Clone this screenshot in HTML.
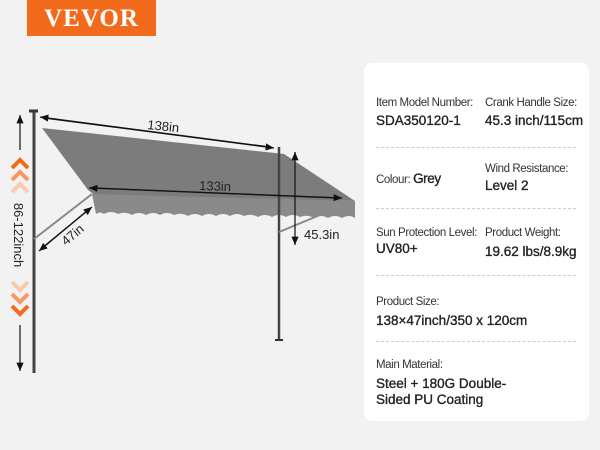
<!DOCTYPE html>
<html><head><style>
body{margin:0;width:600px;height:450px;background:#f2f2f2;position:relative;overflow:hidden;font-family:"Liberation Sans",sans-serif;color:#222}
.logo{position:absolute;left:27px;top:0;width:129px;height:36px;background:#f26a1b;color:#fff;font:bold 25px "Liberation Serif",serif;text-align:center;line-height:38px;letter-spacing:1px}
.card{position:absolute;left:364px;top:63px;width:225px;height:358px;background:#fff;border-radius:8px}
.t{position:absolute;font-size:11.5px;color:#333;letter-spacing:-0.4px;white-space:nowrap}
.v{position:absolute;font-size:13.5px;color:#222;white-space:nowrap;line-height:16px;-webkit-text-stroke:0.35px #222}
.hr{position:absolute;left:12px;width:200px;border-top:1px dashed #ccc}
</style></head><body>
<div class="logo">VEVOR</div>
<svg width="360" height="450" style="position:absolute;left:0;top:0">
<defs><marker id="a" markerWidth="8" markerHeight="8" refX="7" refY="4" orient="auto"><path d="M0,1 L7,4 L0,7z" fill="#111"/></marker></defs>
<polygon points="42,128 284,154 355,201 96,196 88,190" fill="#7c7c7c"/>
<path d="M92,194 L355,201 L355,218 Q349,214 342,218 Q335,214 328,218 Q321,214 314,218 Q307,214 300,217 Q293,213 286,217 Q279,213 272,217 Q265,213 258,217 Q251,213 244,216 Q237,212 230,216 Q223,212 216,216 Q209,212 202,216 Q195,212 188,216 Q181,212 174,215 Q167,211 160,215 Q153,211 146,215 Q139,211 132,215 Q125,211 118,214 Q111,210 104,214 Q100,211 96,214 Z" fill="#8a8a8a"/>
<line x1="34" y1="111" x2="34" y2="373" stroke="#444" stroke-width="3"/>
<line x1="279" y1="147" x2="279" y2="340" stroke="#444" stroke-width="2.5"/>
<line x1="29" y1="111" x2="38" y2="111" stroke="#333" stroke-width="3"/>
<line x1="275" y1="340" x2="283" y2="340" stroke="#333" stroke-width="2"/>
<line x1="34" y1="239" x2="92" y2="194" stroke="#888" stroke-width="2"/>
<line x1="279" y1="232" x2="320" y2="215" stroke="#888" stroke-width="2"/>
<line x1="44" y1="118" x2="274" y2="148" stroke="#111" stroke-width="1.2" marker-end="url(#a)"/>
<line x1="270" y1="147" x2="40" y2="117" stroke="#111" stroke-width="1.2" marker-end="url(#a)"/>
<line x1="95" y1="188" x2="342" y2="198" stroke="#111" stroke-width="1.2" marker-end="url(#a)"/>
<line x1="338" y1="198" x2="89" y2="188" stroke="#111" stroke-width="1.2" marker-end="url(#a)"/>
<line x1="42" y1="248" x2="92" y2="207" stroke="#111" stroke-width="1.2" marker-end="url(#a)"/>
<line x1="88" y1="210" x2="39" y2="251" stroke="#111" stroke-width="1.2" marker-end="url(#a)"/>
<line x1="295" y1="160" x2="295" y2="152" stroke="#111" stroke-width="1.2" marker-end="url(#a)"/>
<line x1="295" y1="152" x2="295" y2="245" stroke="#111" stroke-width="1.2" marker-end="url(#a)"/>
<line x1="20" y1="150" x2="20" y2="115" stroke="#111" stroke-width="1.2" marker-end="url(#a)"/>
<line x1="20" y1="325" x2="20" y2="371" stroke="#111" stroke-width="1.2" marker-end="url(#a)"/>
<g fill="none" stroke-width="4" stroke-linejoin="miter">
<path d="M12,168 L20,160 L28,168" stroke="#f26a1b"/><path d="M12,180 L20,172 L28,180" stroke="#f49a66"/><path d="M12,192 L20,184 L28,192" stroke="#f8cbb0"/>
<path d="M12,282 L20,290 L28,282" stroke="#f8cbb0"/><path d="M12,294 L20,302 L28,294" stroke="#f49a66"/><path d="M12,306 L20,314 L28,306" stroke="#f26a1b"/>
</g>
<g font-family="Liberation Sans" font-size="13" fill="#222">
<text x="147" y="129" transform="rotate(6 147 129)">138in</text>
<text x="199" y="190" transform="rotate(2 199 190)">133in</text>
<text x="66" y="246" transform="rotate(-40 66 246)">47in</text>
<text x="304" y="239">45.3in</text>
<text x="14" y="235" transform="rotate(90 14 235)" text-anchor="middle">86-122inch</text>
</g>
</svg>
<div class="card">
<div class="t" style="left:12px;top:34px">Item Model Number:</div>
<div class="v" style="left:12px;top:50px">SDA350120-1</div>
<div class="t" style="left:121px;top:34px">Crank Handle Size:</div>
<div class="v" style="left:121px;top:50px">45.3 inch/115cm</div>
<div class="hr" style="top:84px"></div>
<div class="t" style="left:12px;top:108px">Colour: <span style="font-size:13.5px;color:#222;-webkit-text-stroke:0.35px #222">Grey</span></div>
<div class="t" style="left:121px;top:100px">Wind Resistance:</div>
<div class="v" style="left:121px;top:115px">Level 2</div>
<div class="hr" style="top:145px"></div>
<div class="t" style="left:12px;top:164px">Sun Protection Level:</div>
<div class="v" style="left:12px;top:178px">UV80+</div>
<div class="t" style="left:121px;top:164px">Product Weight:</div>
<div class="v" style="left:121px;top:181px">19.62 lbs/8.9kg</div>
<div class="hr" style="top:212px"></div>
<div class="t" style="left:12px;top:233px">Product Size:</div>
<div class="v" style="left:12px;top:250px">138×47inch/350 x 120cm</div>
<div class="hr" style="top:278px"></div>
<div class="t" style="left:12px;top:296px">Main Material:</div>
<div class="v" style="left:12px;top:313px">Steel + 180G Double-<br>Sided PU Coating</div>
</div>
</body></html>
